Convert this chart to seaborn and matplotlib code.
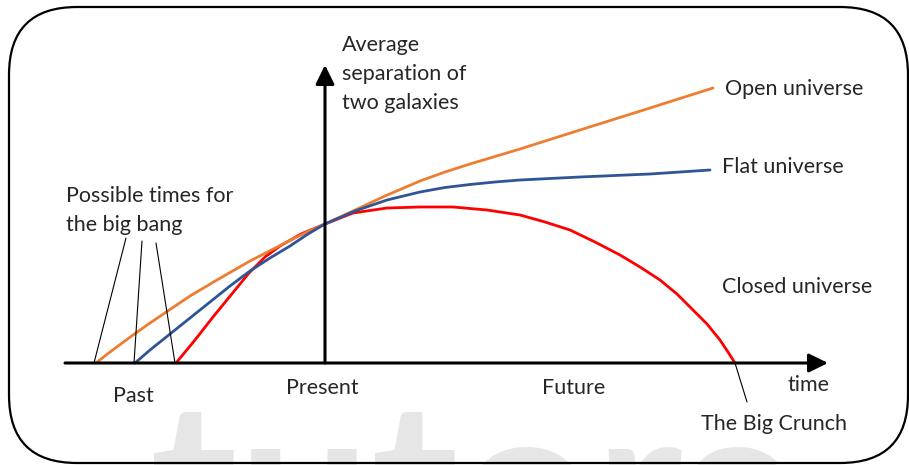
import matplotlib
matplotlib.use("Agg")
import matplotlib.pyplot as plt
import seaborn as sns
from matplotlib.patches import FancyBboxPatch

# ==================================================
# Data — time (present = 0) vs average separation
# ==================================================
open_t = [-2.29, -2.15, -1.92, -1.75, -1.58, -1.35, -1.08, -0.75, -0.42, -0.20, 0,
          0.28, 0.60, 0.95, 1.20, 1.45, 1.95, 2.55, 3.25, 3.88]
open_a = [0, 0.11, 0.28, 0.40, 0.515, 0.67, 0.83, 1.02, 1.19, 1.30, 1.39,
          1.52, 1.67, 1.82, 1.91, 1.99, 2.14, 2.33, 2.55, 2.75]

flat_t = [-1.90, -1.75, -1.55, -1.35, -1.15, -0.95, -0.75, -0.55, -0.35, -0.17, 0,
          0.30, 0.62, 0.95, 1.20, 1.45, 1.70, 1.95, 2.55, 3.25, 3.85]
flat_a = [0, 0.13, 0.29, 0.45, 0.61, 0.77, 0.92, 1.05, 1.17, 1.29, 1.39,
          1.52, 1.63, 1.71, 1.755, 1.785, 1.81, 1.83, 1.86, 1.89, 1.93]

closed_t = [-1.49, -1.30, -1.12, -0.94, -0.76, -0.60, -0.45, -0.24, 0, 0.28, 0.62, 0.95,
            1.28, 1.62, 1.95, 2.20, 2.45, 2.70, 2.95, 3.15, 3.35, 3.52, 3.68, 3.82,
            3.95, 4.03, 4.10]
closed_a = [0, 0.23, 0.46, 0.68, 0.90, 1.06, 1.17, 1.29, 1.39, 1.50, 1.55, 1.56,
            1.56, 1.53, 1.48, 1.41, 1.33, 1.21, 1.08, 0.96, 0.83, 0.69, 0.53, 0.39,
            0.23, 0.11, 0]

# possible big bang times and the big crunch
bang_times = [-2.31, -1.91, -1.50]
crunch_time = 4.10

sns.set_style("white")
plt.rcParams['font.family'] = ['Lato', 'DejaVu Sans']

fig = plt.figure(figsize=(9.09, 4.65), dpi=100)
ax = fig.add_axes([0, 0, 1, 1])
ax.set_xlim(-3.25, 5.84)
ax.set_ylim(-1.02, 3.63)
ax.axis('off')

# watermark
ax.text(-1.75, -2.07, 'tutors', fontsize=170, fontweight='bold', color='#e6e6e6',
        ha='left', va='baseline', zorder=0)

# rounded frame
frame = FancyBboxPatch((-3.16, -1.00), 8.99, 4.56, boxstyle="round,pad=0,rounding_size=0.68",
                       fc='none', ec='black', lw=1.6, clip_on=False, zorder=1)
ax.add_patch(frame)

# curves
line_kw = dict(sort=False, estimator=None, lw=2.0, ax=ax, solid_joinstyle='round')
sns.lineplot(x=open_t, y=open_a, color='#ED7D31', zorder=3, **line_kw)
sns.lineplot(x=flat_t, y=flat_a, color='#2F5597', zorder=4, **line_kw)
sns.lineplot(x=closed_t, y=closed_a, color='#FF0000', zorder=2, **line_kw)

# axes with arrows
arrow = dict(arrowstyle="-|>,head_length=0.55,head_width=0.27", lw=2.2, color='black',
             mutation_scale=21, shrinkA=0, shrinkB=0)
ax.annotate('', xy=(5.03, 0), xytext=(-2.60, 0), arrowprops=arrow, zorder=5)
ax.annotate('', xy=(0, 2.98), xytext=(0, 0), arrowprops=arrow, zorder=5)

# pointer lines
for (x0, y0), bt in zip([(-1.99, 1.25), (-1.83, 1.22), (-1.69, 1.20)], bang_times):
    ax.plot([x0, bt], [y0, 0], color='black', lw=0.8, zorder=6)
ax.plot([crunch_time, 4.22], [0, -0.39], color='black', lw=0.8, zorder=6)

# labels
fs = 15.5
ax.text(0.17, 2.89, 'Average\nseparation of\ntwo galaxies', fontsize=fs, ha='left', va='center',
        linespacing=1.56)
ax.text(4.00, 2.74, 'Open universe', fontsize=fs, ha='left', va='center')
ax.text(3.97, 1.96, 'Flat universe', fontsize=fs, ha='left', va='center')
ax.text(3.97, 0.76, 'Closed universe', fontsize=fs, ha='left', va='center')
ax.text(-2.59, 1.525, 'Possible times for\nthe big bang', fontsize=fs, ha='left', va='center',
        linespacing=1.56)
ax.text(-1.92, -0.33, 'Past', fontsize=fs, ha='center', va='center')
ax.text(-0.03, -0.25, 'Present', fontsize=fs, ha='center', va='center')
ax.text(2.49, -0.25, 'Future', fontsize=fs, ha='center', va='center')
ax.text(4.83, -0.22, 'time', fontsize=fs, ha='center', va='center')
ax.text(4.49, -0.61, 'The Big Crunch', fontsize=fs, ha='center', va='center')

fig.savefig('out.png', dpi=100)
